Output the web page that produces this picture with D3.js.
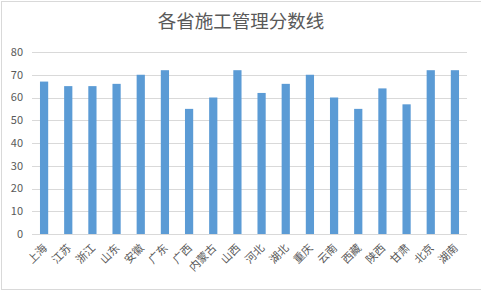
<!DOCTYPE html>
<html><head><meta charset="utf-8">
<script src="https://cdn.jsdelivr.net/npm/d3@7"></script>
<style>body{margin:0;background:#fff}svg{display:block}</style>
</head><body>
<script>
const categories = ["上海","江苏","浙江","山东","安徽","广东","广西","内蒙古","山西","河北","湖北","重庆","云南","西藏","陕西","甘肃","北京","湖南"];
const values = [67,65,65,66,70,72,55,60,72,62,66,70,60,55,64,57,72,72];
const yTicks = [0,10,20,30,40,50,60,70,80];
const title = "各省施工管理分数线";

const W = 481, H = 291;
const svg = d3.select("body").append("svg").attr("width", W).attr("height", H);
const font = "'Microsoft YaHei','Noto Sans CJK SC',sans-serif";

// outer chart border
svg.append("rect").attr("x",1.5).attr("y",1.5).attr("width",W-1).attr("height",H-3)
  .attr("fill","#fff").attr("stroke","#d9d9d9").attr("stroke-width",1);

const x = d3.scaleBand().domain(categories).range([32, 467]).paddingInner(0.66).paddingOuter(0.33);
const y = d3.scaleLinear().domain([0, 80]).range([234, 52]);

// gridlines
svg.append("g").selectAll("line").data(yTicks).join("line")
  .attr("x1", 32).attr("x2", 467)
  .attr("y1", d => Math.round(y(d)) + 0.5).attr("y2", d => Math.round(y(d)) + 0.5)
  .attr("stroke", "#d9d9d9").attr("stroke-width", 1);

// y labels
svg.append("g").selectAll("text").data(yTicks).join("text")
  .attr("x", 23).attr("y", d => y(d)).attr("dy", "0.35em")
  .attr("text-anchor", "end").attr("font-family", font).attr("font-size", 11)
  .attr("fill", "#595959").text(d => d);

// bars
svg.append("g").selectAll("rect").data(values).join("rect")
  .attr("x", (d, i) => x(categories[i]))
  .attr("width", x.bandwidth())
  .attr("y", d => y(d))
  .attr("height", d => y(0) - y(d))
  .attr("fill", "#5b9bd5");

// x labels
svg.append("g").selectAll("text").data(categories).join("text")
  .attr("transform", d => `translate(${x(d) + x.bandwidth()/2 + 1},${246}) rotate(-45)`)
  .attr("text-anchor", "end").attr("dy", "0.35em")
  .attr("font-family", font).attr("font-size", 11)
  .attr("fill", "#595959").text(d => d);

// title
svg.append("text").attr("x", 241).attr("y", 22).attr("dy", "0.35em")
  .attr("text-anchor", "middle").attr("font-family", font).attr("font-size", 18.5)
  .attr("fill", "#595959").text(title);
</script>
</body></html>
